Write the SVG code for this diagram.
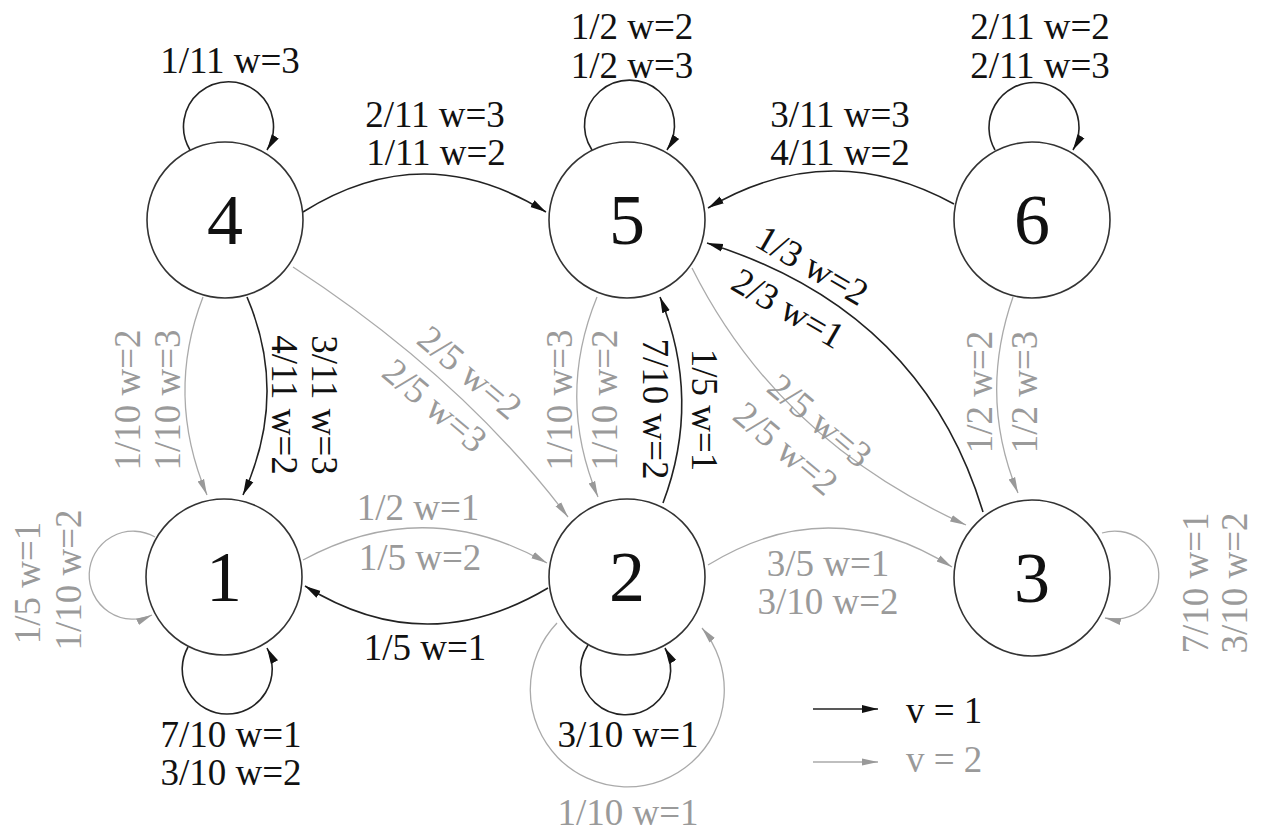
<svg xmlns="http://www.w3.org/2000/svg" width="1261" height="831" viewBox="0 0 1261 831">
<style>
.node circle{fill:#fff;stroke:#333;stroke-width:1.6}
.node text{font-family:"Liberation Serif",serif;font-size:72px;text-anchor:middle;fill:#111}
.e1{fill:none;stroke:#222;stroke-width:1.6;marker-end:url(#ab)}
.e2{fill:none;stroke:#aaa;stroke-width:1.3;marker-end:url(#ag)}
.t{font-family:"Liberation Serif",serif;font-size:37px;text-anchor:middle}
.t1{fill:#111}
.t2{fill:#9a9a9a}
</style>
<defs>
<marker id="ab" markerUnits="userSpaceOnUse" markerWidth="18" markerHeight="12" refX="16" refY="5" orient="auto">
<path d="M0,1 L16,5 L0,9 Z" fill="#111"/>
</marker>
<marker id="ag" markerUnits="userSpaceOnUse" markerWidth="18" markerHeight="12" refX="16" refY="5" orient="auto">
<path d="M0,1.5 L16,5 L0,8.5 Z" fill="#999"/>
</marker>
</defs>
<rect width="1261" height="831" fill="#fff"/>
<g id="connectors">
<path class="e1" d="M303,212 Q424,136 546,212"/>
<path class="e1" d="M954,204 Q830,136 708,208"/>
<path class="e1" d="M983,512 Q922,310 707,243"/>
<path class="e1" d="M663,503 Q702,400 660,297"/>
<path class="e1" d="M247,297 Q289,395 243,495"/>
<path class="e2" d="M203,297 Q165,395 207,495"/>
<path class="e2" d="M597,297 Q556,397 598,497"/>
<path class="e2" d="M293,267 Q462,377 568,517"/>
<path class="e2" d="M692,268 Q778,440 966,525"/>
<path class="e2" d="M1013,297 Q978,397 1018,493"/>
<path class="e2" d="M303,560 Q425,494 547,563"/>
<path class="e1" d="M548,588 Q425,661 305,586"/>
<path class="e2" d="M708,565 Q830,490 952,567"/>
<path class="e2" d="M557,623 A97,97 0 1 0 702,628"/>
<path class="e1" d="M190,150 A45,45 0 1 1 267,150"/>
<path class="e1" d="M592,150 A45,45 0 1 1 667,150"/>
<path class="e1" d="M995,150 A45,45 0 1 1 1073,150"/>
<path class="e1" d="M188,647 A45,45 0 1 0 267,648"/>
<path class="e1" d="M588,645 A45,45 0 1 0 665,648"/>
<path class="e2" d="M155,537 A44,44 0 1 0 152,615"/>
<path class="e2" d="M1102,533 A44,44 0 1 1 1105,618"/>
<path class="e1" d="M813,709 L878,709"/>
<path class="e2" d="M813,762 L878,762"/>
</g>
<g id="n1" class="node"><circle cx="224" cy="577" r="78"/><text x="224" y="601">1</text></g>
<g id="n2" class="node"><circle cx="627" cy="577" r="78"/><text x="627" y="601">2</text></g>
<g id="n3" class="node"><circle cx="1032" cy="578" r="78"/><text x="1032" y="602">3</text></g>
<g id="n4" class="node"><circle cx="225" cy="220" r="78"/><text x="225" y="244">4</text></g>
<g id="n5" class="node"><circle cx="627" cy="220" r="78"/><text x="627" y="244">5</text></g>
<g id="n6" class="node"><circle cx="1032" cy="220" r="78"/><text x="1032" y="244">6</text></g>
<g id="labels">
<text class="t t1" x="230" y="73">1/11 w=3</text>
<text class="t t1" x="435" y="127">2/11 w=3</text>
<text class="t t1" x="436" y="165">1/11 w=2</text>
<text class="t t1" x="632" y="39">1/2 w=2</text>
<text class="t t1" x="632" y="78">1/2 w=3</text>
<text class="t t1" x="840" y="127">3/11 w=3</text>
<text class="t t1" x="840" y="165">4/11 w=2</text>
<text class="t t1" x="1040" y="39">2/11 w=2</text>
<text class="t t1" x="1040" y="78">2/11 w=3</text>
<text class="t t1" x="231" y="747">7/10 w=1</text>
<text class="t t1" x="231" y="785">3/10 w=2</text>
<text class="t t2" transform="translate(40,583) rotate(-90)">1/5 w=1</text>
<text class="t t2" transform="translate(81,580) rotate(-90)">1/10 w=2</text>
<text class="t t2" x="418" y="520">1/2 w=1</text>
<text class="t t2" x="420" y="570">1/5 w=2</text>
<text class="t t1" x="425" y="660">1/5 w=1</text>
<text class="t t1" x="628" y="747">3/10 w=1</text>
<text class="t t2" x="628" y="825">1/10 w=1</text>
<text class="t t2" x="828" y="576">3/5 w=1</text>
<text class="t t2" x="828" y="614">3/10 w=2</text>
<text class="t t2" transform="translate(1208,583) rotate(-90)">7/10 w=1</text>
<text class="t t2" transform="translate(1247,583) rotate(-90)">3/10 w=2</text>
<text class="t t2" transform="translate(140,400) rotate(-90)">1/10 w=2</text>
<text class="t t2" transform="translate(180,400) rotate(-90)">1/10 w=3</text>
<text class="t t1" transform="translate(312,405) rotate(90)">3/11 w=3</text>
<text class="t t1" transform="translate(272,405) rotate(90)">4/11 w=2</text>
<text class="t t2" transform="translate(462,382) rotate(40)">2/5 w=2</text>
<text class="t t2" transform="translate(427,415) rotate(40)">2/5 w=3</text>
<text class="t t2" transform="translate(572,400) rotate(-90)">1/10 w=3</text>
<text class="t t2" transform="translate(617,400) rotate(-90)">1/10 w=2</text>
<text class="t t1" transform="translate(692,410) rotate(90)">1/5 w=1</text>
<text class="t t1" transform="translate(643,409) rotate(90)">7/10 w=2</text>
<text class="t t1" transform="translate(806,276) rotate(30)">1/3 w=2</text>
<text class="t t1" transform="translate(782,319) rotate(30)">2/3 w=1</text>
<text class="t t2" transform="translate(812,430) rotate(40)">2/5 w=3</text>
<text class="t t2" transform="translate(778,458) rotate(40)">2/5 w=2</text>
<text class="t t2" transform="translate(992,392) rotate(-90)">1/2 w=2</text>
<text class="t t2" transform="translate(1037,392) rotate(-90)">1/2 w=3</text>
<text class="t t1" x="906" y="723" style="text-anchor:start">v = 1</text>
<text class="t t2" x="906" y="772" style="text-anchor:start">v = 2</text>
</g>
</svg>
